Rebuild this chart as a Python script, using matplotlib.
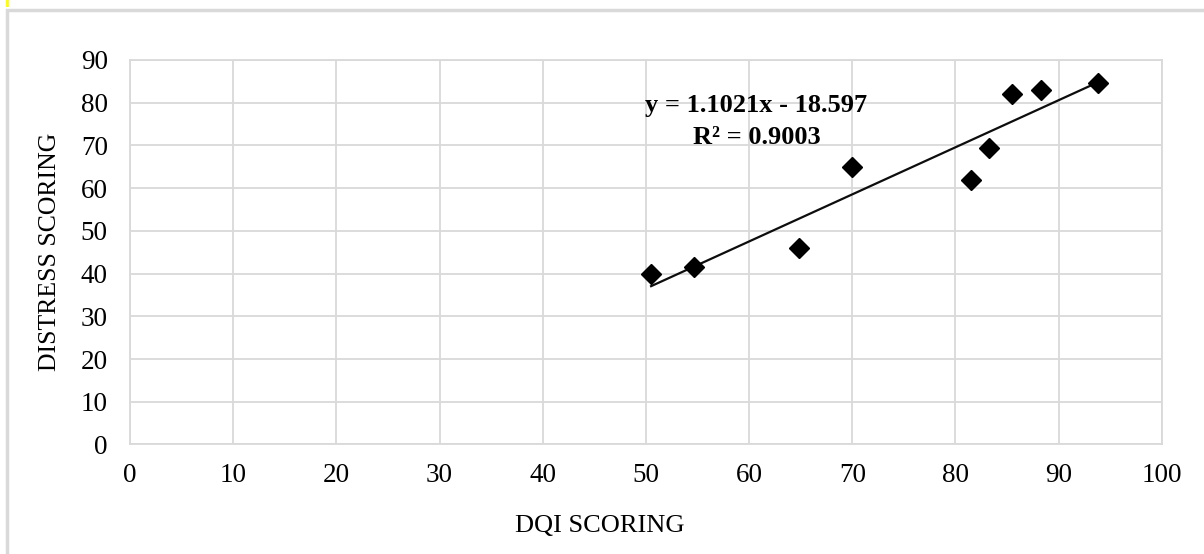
import numpy as np
import matplotlib
matplotlib.use("Agg")
from matplotlib import pyplot as plt
from matplotlib.patches import Rectangle

plt.rcParams['font.family'] = ['Liberation Serif', 'DejaVu Serif']

# data
dqi = [50.5, 54.7, 64.8, 70.0, 81.5, 83.2, 85.5, 88.3, 93.8]
distress = [40.0, 41.5, 46.0, 65.0, 62.0, 69.5, 82.0, 83.0, 84.5]
slope = 1.1021
intercept = -18.597
r2 = 0.9003
x_ticks = list(range(0, 101, 10))
y_ticks = list(range(0, 91, 10))


def make_pic():
    fig = plt.figure(figsize=(12.04, 5.54), dpi=100)
    ax = fig.add_axes([0.108, 0.1977, 0.857, 0.694])

    # chart area border + the little yellow mark in the corner
    fig.patches.append(Rectangle((7 / 1204, -0.1), 1.2, 1 - 10 / 554 + 0.1,
                                 transform=fig.transFigure, fill=False,
                                 edgecolor='#d9d9d9', linewidth=2.5))
    fig.patches.append(Rectangle((6 / 1204, 1 - 7 / 554), 2.5 / 1204, 7 / 554,
                                 transform=fig.transFigure, facecolor='#ffff00',
                                 edgecolor='none'))

    ax.set_xlim(0, 100)
    ax.set_ylim(0, 90)
    ax.set_xticks(x_ticks)
    ax.set_yticks(y_ticks)
    ax.grid(True, color='#d9d9d9', linewidth=1.3)
    ax.set_axisbelow(True)
    for s in ax.spines.values():
        s.set_color('#d9d9d9')
        s.set_linewidth(1.3)
    ax.tick_params(axis='both', length=0, labelsize=19.5, colors='black')
    ax.tick_params(axis='x', pad=13)
    ax.tick_params(axis='y', pad=16)

    ax.plot(dqi, distress, linestyle='none', marker='D', markersize=10,
            color='black', zorder=3)

    # linear trendline over the data range
    xs = np.array([min(dqi), max(dqi)])
    ax.plot(xs, slope * xs + intercept, color='#0d0d0d', linewidth=1.6, zorder=2)

    ax.text(60.7, 75.6, 'y = %.4fx - %.3f\nR² = %.4f' % (slope, -intercept, r2),
            ha='center', va='center', fontsize=19, fontweight='bold',
            linespacing=1.45)

    ax.set_xlabel('DQI SCORING', fontsize=19, labelpad=20)
    ax.xaxis.label.set_x(0.455)
    ax.set_ylabel('DISTRESS SCORING', fontsize=18.5, labelpad=14)

    fig.savefig('out.png', dpi=100)


if __name__ == '__main__':
    make_pic()
